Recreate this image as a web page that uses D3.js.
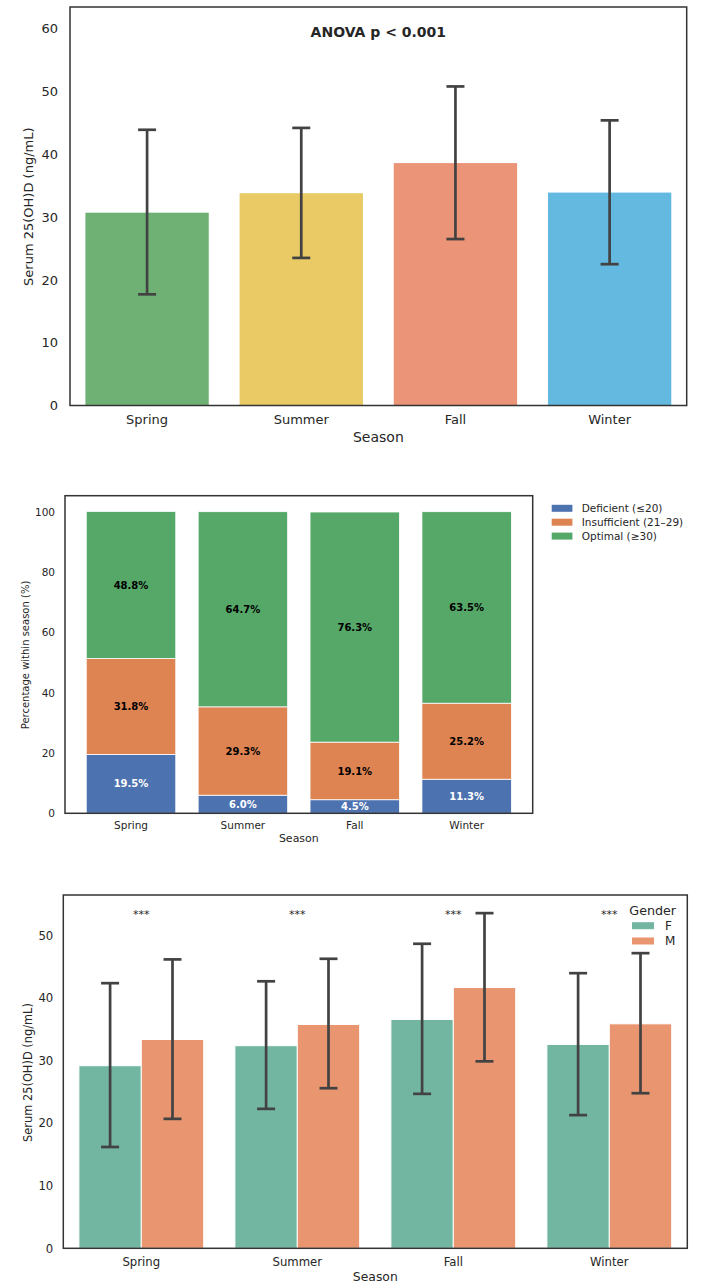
<!DOCTYPE html>
<html>
<head>
<meta charset="utf-8">
<script src="https://cdn.jsdelivr.net/npm/d3@7"></script>
<style>
  body { margin: 0; background: #fff; }
  svg { display: block; font-family: "DejaVu Sans", sans-serif; }
</style>
</head>
<body>
<svg id="chart" width="709" height="1286"></svg>
<script>
const seasons = ['Spring', 'Summer', 'Fall', 'Winter'];

// panel 1: mean serum level per season with SD
const seasonMean = [30.7, 33.8, 38.6, 33.9];
const seasonLow = [17.7, 23.5, 26.5, 22.5];
const seasonHigh = [43.9, 44.2, 50.8, 45.4];
const seasonColors = ['#6fb174', '#e9ca64', '#ec9477', '#63b9e0'];

// panel 2: status distribution within season (%)
const statusNames = ['Deficient (≤20)', 'Insufficient (21–29)', 'Optimal (≥30)'];
const deficient = [19.5, 6.0, 4.5, 11.3];
const insufficient = [31.8, 29.3, 19.1, 25.2];
const optimal = [48.8, 64.7, 76.3, 63.5];
const statusColors = ['#4c72b0', '#dd8452', '#55a868'];

// panel 3: by gender
const genders = ['F', 'M'];
const femaleMean = [29.2, 32.4, 36.6, 32.6];
const femaleLow = [16.2, 22.3, 24.7, 21.3];
const femaleHigh = [42.4, 42.7, 48.7, 44.0];
const maleMean = [33.4, 35.8, 41.7, 35.9];
const maleLow = [20.7, 25.6, 29.9, 24.8];
const maleHigh = [46.2, 46.3, 53.6, 47.2];
const sigLabels = ['***', '***', '***', '***'];
const genderColors = ['#72b6a1', '#e9956f'];

const svg = d3.select('#chart');
const textColor = '#262626';
const errColor = '#424242';

function frame(g, x0, y0, x1, y1) {
  g.append('rect')
    .attr('x', x0).attr('y', y0)
    .attr('width', x1 - x0).attr('height', y1 - y0)
    .attr('fill', 'none')
    .attr('stroke', '#333')
    .attr('stroke-width', 1.5);
}

function styleAxis(sel, size) {
  sel.attr('font-family', null).attr('font-size', null);
  sel.select('.domain').remove();
  sel.selectAll('text').attr('fill', textColor).style('font-size', size + 'px');
}

function errorBars(g, data, cap) {
  const e = g.append('g').attr('stroke', errColor).attr('stroke-width', 2.7);
  e.selectAll('line.v').data(data).join('line')
    .attr('x1', d => d.x).attr('x2', d => d.x)
    .attr('y1', d => d.lo).attr('y2', d => d.hi);
  e.selectAll('line.t').data(data).join('line')
    .attr('x1', d => d.x - cap / 2).attr('x2', d => d.x + cap / 2)
    .attr('y1', d => d.hi).attr('y2', d => d.hi);
  e.selectAll('line.b').data(data).join('line')
    .attr('x1', d => d.x - cap / 2).attr('x2', d => d.x + cap / 2)
    .attr('y1', d => d.lo).attr('y2', d => d.lo);
}

// ---------- panel 1 ----------
{
  const L = 70, T = 7, R = 686.7, B = 405.5;
  const g = svg.append('g');
  const x = d3.scaleBand().domain(seasons).range([L, R]).paddingInner(0.2).paddingOuter(0.1);
  const y = d3.scaleLinear().domain([0, 63.45]).range([B, T]);

  g.selectAll('rect.bar').data(seasons).join('rect')
    .attr('x', d => x(d))
    .attr('width', x.bandwidth())
    .attr('y', (d, i) => y(seasonMean[i]))
    .attr('height', (d, i) => B - y(seasonMean[i]))
    .attr('fill', (d, i) => seasonColors[i]);

  errorBars(g, seasons.map((s, i) => ({
    x: x(s) + x.bandwidth() / 2, lo: y(seasonLow[i]), hi: y(seasonHigh[i])
  })), 18);

  g.append('g').attr('transform', `translate(${L},0)`)
    .call(d3.axisLeft(y).tickValues([0, 10, 20, 30, 40, 50, 60]).tickSize(0).tickPadding(12))
    .call(s => styleAxis(s, 13));
  g.append('g').attr('transform', `translate(0,${B})`)
    .call(d3.axisBottom(x).tickSize(0).tickPadding(9.5))
    .call(s => styleAxis(s, 13));

  frame(g, L, T, R, B);

  g.append('text').attr('x', (L + R) / 2).attr('y', 37)
    .attr('text-anchor', 'middle').attr('font-weight', 'bold')
    .attr('fill', textColor).style('font-size', '14px')
    .text('ANOVA p < 0.001');
  g.append('text').attr('x', (L + R) / 2).attr('y', 442)
    .attr('text-anchor', 'middle').attr('fill', textColor).style('font-size', '14px')
    .text('Season');
  g.append('text').attr('transform', `translate(28.3,${206.7}) rotate(-90)`)
    .attr('dy', '0.35em').attr('text-anchor', 'middle')
    .attr('fill', textColor).style('font-size', '13px')
    .text('Serum 25(OH)D (ng/mL)');
}

// ---------- panel 2 ----------
{
  const L = 65, T = 495.7, R = 532.7, B = 813.3;
  const g = svg.append('g');
  const x = d3.scaleBand().domain(seasons).range([L, R]).paddingInner(0.2).paddingOuter(0.19);
  const y = d3.scaleLinear().domain([0, 105.3]).range([B, T]);

  const rows = seasons.map((s, i) => ({
    season: s, d: deficient[i], i: insufficient[i], o: optimal[i]
  }));
  const stack = d3.stack().keys(['d', 'i', 'o'])(rows);

  stack.forEach((layer, k) => {
    const lg = g.append('g');
    lg.selectAll('rect').data(layer).join('rect')
      .attr('x', d => x(d.data.season))
      .attr('width', x.bandwidth())
      .attr('y', d => y(d[1]))
      .attr('height', d => y(d[0]) - y(d[1]))
      .attr('fill', statusColors[k])
      .attr('stroke', '#fff').attr('stroke-width', 0.8);
    lg.selectAll('text').data(layer).join('text')
      .attr('x', d => x(d.data.season) + x.bandwidth() / 2)
      .attr('y', d => y((d[0] + d[1]) / 2))
      .attr('dy', '0.36em')
      .attr('text-anchor', 'middle')
      .attr('font-weight', 'bold')
      .attr('fill', k === 0 ? '#fff' : '#000')
      .style('font-size', '10px')
      .text(d => (d[1] - d[0]).toFixed(1) + '%');
  });

  g.append('g').attr('transform', `translate(${L},0)`)
    .call(d3.axisLeft(y).tickValues([0, 20, 40, 60, 80, 100]).tickSize(0).tickPadding(10))
    .call(s => styleAxis(s, 10.5));
  g.append('g').attr('transform', `translate(0,${B})`)
    .call(d3.axisBottom(x).tickSize(0).tickPadding(8.4))
    .call(s => styleAxis(s, 10.5));

  frame(g, L, T, R, B);

  g.append('text').attr('x', (L + R) / 2).attr('y', 842.3)
    .attr('text-anchor', 'middle').attr('fill', textColor).style('font-size', '11px')
    .text('Season');
  g.append('text').attr('transform', `translate(25.8,655) rotate(-90)`)
    .attr('dy', '0.35em').attr('text-anchor', 'middle')
    .attr('fill', textColor).style('font-size', '10px')
    .text('Percentage within season (%)');

  const leg = g.append('g').attr('transform', 'translate(551.7,508.3)');
  const item = leg.selectAll('g').data(statusNames).join('g')
    .attr('transform', (d, i) => `translate(0,${i * 13.9})`);
  item.append('rect').attr('x', 0).attr('y', -3.5).attr('width', 20.7).attr('height', 7)
    .attr('fill', (d, i) => statusColors[i]);
  item.append('text').attr('x', 30).attr('dy', '0.36em')
    .attr('fill', textColor).style('font-size', '10.5px').text(d => d);
}

// ---------- panel 3 ----------
{
  const L = 63.3, T = 895, R = 687.3, B = 1248.3;
  const g = svg.append('g');
  const x = d3.scaleBand().domain(seasons).range([L, R]).paddingInner(0.2).paddingOuter(0.1);
  const xg = d3.scaleBand().domain(genders).range([0, x.bandwidth()]);
  const y = d3.scaleLinear().domain([0, 56.5]).range([B, T]);

  const series = [
    { mean: femaleMean, lo: femaleLow, hi: femaleHigh },
    { mean: maleMean, lo: maleLow, hi: maleHigh }
  ];

  series.forEach((sr, k) => {
    g.append('g').selectAll('rect').data(seasons).join('rect')
      .attr('x', d => x(d) + xg(genders[k]))
      .attr('width', xg.bandwidth())
      .attr('y', (d, i) => y(sr.mean[i]))
      .attr('height', (d, i) => B - y(sr.mean[i]))
      .attr('fill', genderColors[k])
      .attr('stroke', '#fff').attr('stroke-width', 1);
  });
  series.forEach((sr, k) => {
    errorBars(g, seasons.map((s, i) => ({
      x: x(s) + xg(genders[k]) + xg.bandwidth() / 2,
      lo: y(sr.lo[i]), hi: y(sr.hi[i])
    })), 18);
  });

  g.selectAll('text.sig').data(seasons).join('text')
    .attr('class', 'sig')
    .attr('x', d => x(d) + x.bandwidth() / 2)
    .attr('y', y(52.9))
    .attr('text-anchor', 'middle')
    .attr('fill', textColor).style('font-size', '11px')
    .text((d, i) => sigLabels[i]);

  g.append('g').attr('transform', `translate(${L},0)`)
    .call(d3.axisLeft(y).tickValues([0, 10, 20, 30, 40, 50]).tickSize(0).tickPadding(10))
    .call(s => styleAxis(s, 11.7));
  g.append('g').attr('transform', `translate(0,${B})`)
    .call(d3.axisBottom(x).tickSize(0).tickPadding(9))
    .call(s => styleAxis(s, 11.7));

  frame(g, L, T, R, B);

  g.append('text').attr('x', (L + R) / 2).attr('y', 1281.3)
    .attr('text-anchor', 'middle').attr('fill', textColor).style('font-size', '12.4px')
    .text('Season');
  g.append('text').attr('transform', `translate(27.5,1072.5) rotate(-90)`)
    .attr('dy', '0.35em').attr('text-anchor', 'middle')
    .attr('fill', textColor).style('font-size', '11.4px')
    .text('Serum 25(OH)D (ng/mL)');

  const leg = g.append('g');
  leg.append('text').attr('x', 629.3).attr('y', 914.5)
    .attr('fill', textColor).style('font-size', '12.7px').text('Gender');
  const item = leg.selectAll('g').data(genders).join('g')
    .attr('transform', (d, i) => `translate(632,${925.7 + i * 15.3})`);
  item.append('rect').attr('x', 0).attr('y', -3.5).attr('width', 22).attr('height', 7)
    .attr('fill', (d, i) => genderColors[i]);
  item.append('text').attr('x', 33).attr('dy', '0.36em')
    .attr('fill', textColor).style('font-size', '12px').text(d => d);
}
</script>
</body>
</html>
